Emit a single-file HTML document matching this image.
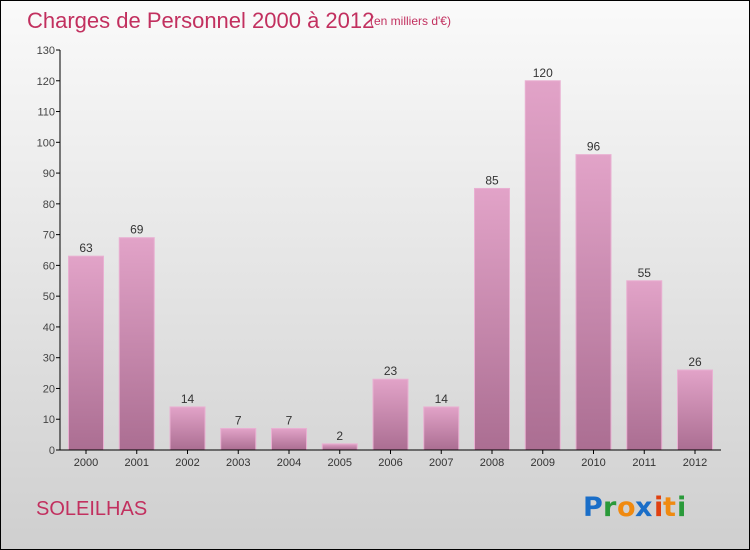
<!DOCTYPE html>
<html><head><meta charset="utf-8"><style>
body{margin:0}
#c{width:748px;height:548px;border:1px solid #000;position:relative;background:linear-gradient(#fafafa,#cfcfcf);font-family:"Liberation Sans",sans-serif;overflow:hidden}
</style></head><body>
<div id="c">
<svg id="s" width="748" height="548" style="position:absolute;left:0;top:0">
<defs><linearGradient id="g" x1="0" y1="0" x2="0" y2="1"><stop offset="0" stop-color="#e2a3c8"/><stop offset="1" stop-color="#ab6e92"/></linearGradient></defs>
<text x="26" y="27" font-size="22" fill="#c2305f">Charges de Personnel 2000 à 2012</text>
<text x="369" y="24" font-size="12" fill="#c2305f">(en milliers d'€)</text>
<text x="35" y="514" font-size="20" fill="#c2305f">SOLEILHAS</text>
<g font-size="27" font-weight="bold" font-family="'DejaVu Sans',sans-serif">
<text x="582" y="515" fill="#1a6ec8">P</text><text x="602" y="515" fill="#2a9a3a">r</text><text x="616" y="515" fill="#f08a10">o</text><text x="634" y="515" fill="#1a6ec8">x</text><text x="653" y="515" fill="#e04010">i</text><text x="662" y="515" fill="#f08a10">t</text><text x="676" y="515" fill="#2a9a3a">i</text></g>
<g id="plot"></g>
</svg></div>
<script>
const categories=["2000","2001","2002","2003","2004","2005","2006","2007","2008","2009","2010","2011","2012"];
const values=[63,69,14,7,7,2,23,14,85,120,96,55,26];
const yTicks=[0,10,20,30,40,50,60,70,80,90,100,110,120,130];
const NS="http://www.w3.org/2000/svg";
const p=document.getElementById('plot');
const y0=449,y1=49,maxV=130,x0=59,step=50.75,c0=85,bw=35;
const Y=v=>y0-(v/maxV)*(y0-y1);
const X=i=>c0+i*step;
function mk(t,a){const e=document.createElementNS(NS,t);for(const k in a)e.setAttribute(k,a[k]);p.appendChild(e);return e;}
yTicks.forEach(v=>{
 const l=mk('line',{x1:x0-4,x2:x0,y1:Y(v),y2:Y(v),stroke:'#000'});
 
 
 const t=mk('text',{x:x0-5,y:Y(v)+4,'font-size':11,'text-anchor':'end',fill:'#444'});t.textContent=v;
 
 
});
values.forEach((v,i)=>{
 const r=mk('rect',{x:X(i)-bw/2,y:Y(v),width:bw,height:y0-Y(v),fill:'url(#g)',stroke:'#e9b0d2','stroke-width':1});
 
 
 const t=mk('text',{x:X(i),y:Y(v)-4,'font-size':12,'text-anchor':'middle',fill:'#333'});t.textContent=v;
 
 
 const k=mk('line',{x1:X(i),x2:X(i),y1:y0,y2:y0+4,stroke:'#000'});
 
 
 const c=mk('text',{x:X(i),y:y0+16,'font-size':11,'text-anchor':'middle',fill:'#333'});c.textContent=categories[i];
 
 
});
const ya=mk('line',{x1:x0,x2:x0,y1:y1,y2:y0,stroke:'#000'});


const xa=mk('line',{x1:x0,x2:720,y1:y0,y2:y0,stroke:'#000'});


</script>
</body></html>
